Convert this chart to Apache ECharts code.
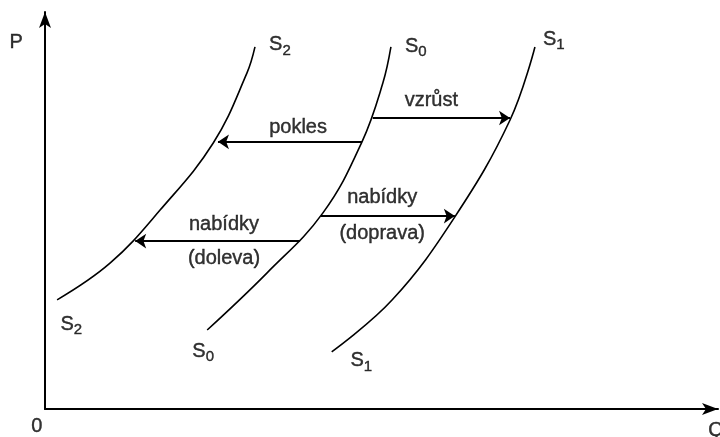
<!DOCTYPE html>
<html>
<head>
<meta charset="utf-8">
<script src="https://cdn.jsdelivr.net/npm/echarts@6/dist/echarts.min.js"></script>
<style>
  html, body { margin: 0; padding: 0; background: #fff; }
  #chart { width: 720px; height: 437px; }
</style>
</head>
<body>
<div id="chart"></div>
<script>
// křivky nabídky (Q, P)
const curveS2 = [[1.8, 27.5], [9.7, 36.8], [17.1, 50.1], [25.0, 67.0], [30.0, 84.6], [31.2, 91.2]];
const curveS0 = [[24.1, 19.9], [33.0, 34.3], [41.3, 49.4], [47.1, 67.3], [50.2, 82.1], [51.4, 91.2]];
const curveS1 = [[42.6, 14.4], [51.6, 27.5], [60.9, 48.4], [69.1, 72.8], [72.8, 91.2]];

// posuny: [od, do]
const shiftArrows = [
  [[47.1, 67.3], [25.7, 67.3]],
  [[48.7, 73.3], [69.1, 73.3]],
  [[37.9, 42.3], [13.4, 42.3]],
  [[41.0, 48.6], [60.9, 48.6]]
];

// popisky: [Q, P, text]
const textLabels = [
  [37.6, 71.0, 'pokles'],
  [57.4, 77.6, 'vzrůst'],
  [26.6, 46.6, 'nabídky'],
  [26.6, 37.8, '(doleva)'],
  [50.1, 53.4, 'nabídky'],
  [50.1, 44.3, '(doprava)'],
  [-4.3, 92.4, 'P'],
  [-1.2, -4.3, '0'],
  [99.7, -5.3, 'Q']
];

// popisky křivek: [Q, P, index]
const curveLabels = [
  [34.9, 91.7, '2'],
  [55.1, 91.4, '0'],
  [75.6, 93.2, '1'],
  [3.9, 21.4, '2'],
  [23.5, 14.6, '0'],
  [47.0, 12.1, '1']
];

const font = 'Liberation Sans, Arial, sans-serif';
const ink = '#000';

const chart = echarts.init(document.getElementById('chart'));

const curveSeries = (data) => ({
  type: 'line',
  data: data,
  smooth: 0.4,
  showSymbol: false,
  silent: true,
  lineStyle: { color: ink, width: 1.6 },
  z: 3
});

const axisCommon = {
  type: 'value',
  min: 0,
  max: 100,
  splitLine: { show: false },
  axisTick: { show: false },
  axisLabel: { show: false },
  axisLine: {
    show: true,
    onZero: false,
    symbol: ['none', 'arrow'],
    symbolSize: [9, 16],
    lineStyle: { color: ink, width: 2 }
  }
};

// trochu tučnější písmo jako ve skenu
const textStyle = {
  color: ink,
  fontFamily: font,
  fontSize: 20,
  textBorderColor: ink,
  textBorderWidth: 0.4
};

chart.setOption({
  animation: false,
  backgroundColor: '#fff',
  grid: { left: 45, right: 2, top: 12, bottom: 28 },
  xAxis: axisCommon,
  yAxis: axisCommon,
  series: [
    curveSeries(curveS2),
    curveSeries(curveS0),
    curveSeries(curveS1),
    {
      type: 'lines',
      coordinateSystem: 'cartesian2d',
      silent: true,
      symbol: ['none', 'arrow'],
      symbolSize: 11,
      lineStyle: { color: ink, width: 2, opacity: 1 },
      data: shiftArrows.map(a => ({ coords: a })),
      z: 4
    },
    {
      type: 'scatter',
      clip: false,
      silent: true,
      symbolSize: 0,
      data: textLabels,
      label: Object.assign({
        show: true,
        position: 'inside',
        formatter: p => p.data[2]
      }, textStyle)
    },
    {
      type: 'scatter',
      clip: false,
      silent: true,
      symbolSize: 0,
      data: curveLabels,
      label: {
        show: true,
        position: 'inside',
        formatter: p => '{s|S}{i|' + p.data[2] + '}',
        rich: {
          s: textStyle,
          i: Object.assign({}, textStyle, { fontSize: 15, padding: [12, 0, 0, 0] })
        }
      }
    }
  ]
});
</script>
</body>
</html>
